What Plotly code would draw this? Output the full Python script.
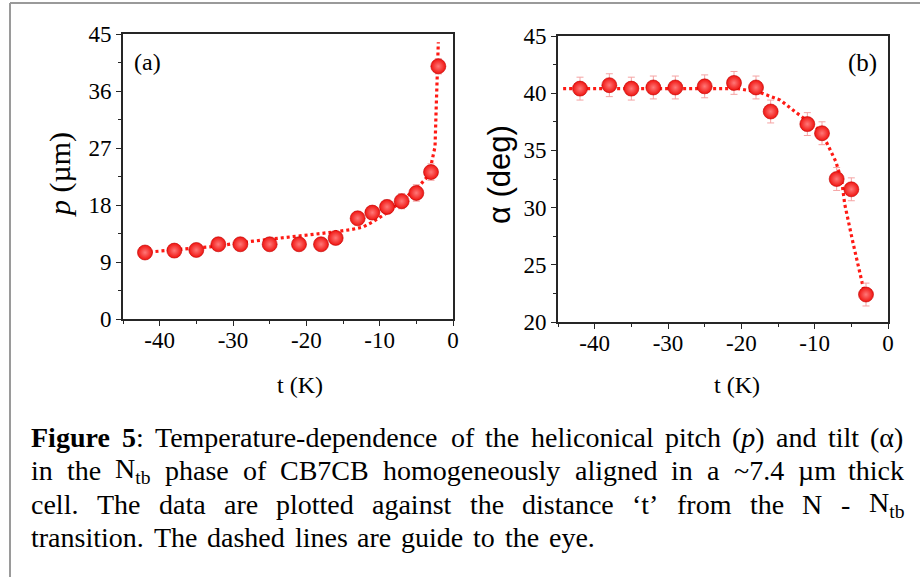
import plotly.graph_objects as go

W, H = 920, 577

# ---------------- data ----------------
t_a = [-42, -38, -35, -32, -29, -25, -21, -18, -16, -13, -11, -9, -7, -5, -3, -2]
p_a = [10.5, 10.8, 10.9, 11.8, 11.8, 11.8, 11.8, 11.8, 12.8, 15.9, 16.8, 17.7, 18.6, 19.9, 23.2, 39.9]
p_err = [0.6, 0.6, 0.6, 0.6, 0.6, 0.6, 0.6, 0.6, 0.8, 1.0, 1.0, 1.1, 1.2, 1.3, 1.3, 1.2]

curve_t_a = [-42.2, -37.7, -33.1, -27.2, -21.3, -18.0, -15.9, -14.0, -12.3, -11.0, -9.5, -8.3,
             -7.2, -6.0, -4.7, -4.0, -3.1, -2.9, -2.45, -2.3, -2.15, -2.0]
curve_p_a = [10.5, 10.9, 11.4, 12.3, 13.0, 13.5, 13.8, 14.1, 14.5, 15.3, 16.4, 17.4,
             18.5, 19.6, 20.9, 21.8, 23.0, 24.8, 27.2, 33.0, 39.0, 43.7]

t_b = [-42, -38, -35, -32, -29, -25, -21, -18, -16, -11, -9, -7, -5, -3]
alpha_b = [40.4, 40.7, 40.4, 40.5, 40.5, 40.6, 40.9, 40.5, 38.4, 37.3, 36.5, 32.5, 31.6, 22.4]
alpha_err = [1.0] * len(t_b)

curve_t_b = [-44.3, -20.5, -17.6, -14.7, -12.5, -9.6, -8.3, -7.1, -6.3, -5.9, -4.8, -3.8, -3.3]
curve_alpha_b = [40.4, 40.4, 40.1, 39.4, 38.3, 36.9, 35.6, 34.0, 32.3, 30.3, 27.0, 24.2, 22.8]

x_ticks = [-40, -30, -20, -10, 0]
ya_ticks = [0, 9, 18, 27, 36, 45]
yb_ticks = [20, 25, 30, 35, 40, 45]

caption_lines = [
    ["<b>Figure</b>", "<b>5</b>:", "Temperature-dependence", "of", "the", "heliconical", "pitch",
     "(<i>p</i>)", "and", "tilt", "(α)"],
    ["in", "the", "N<sub>tb</sub>", "phase", "of", "CB7CB", "homogeneously", "aligned", "in", "a",
     "~7.4", "µm", "thick"],
    ["cell.", "The", "data", "are", "plotted", "against", "the", "distance", "‘t’", "from", "the",
     "N", "-", "N<sub>tb</sub>"],
    ["transition.", "The", "dashed", "lines", "are", "guide", "to", "the", "eye."],
]

# ---------------- styling ----------------
RED = "#f01410"
SERIF = "Liberation Serif"
SANS = "Liberation Sans"
AXC = "#262626"

fig = go.Figure()

for xa, ya, ct, cv, tt, vv, ee in [
    ("x", "y", curve_t_a, curve_p_a, t_a, p_a, p_err),
    ("x2", "y2", curve_t_b, curve_alpha_b, t_b, alpha_b, alpha_err),
]:
    fig.add_trace(go.Scatter(
        x=ct, y=cv, xaxis=xa, yaxis=ya, mode="lines",
        line=dict(color="#ff1a14", width=3.2, dash="3px,3px"),
        hoverinfo="skip", showlegend=False))
    fig.add_trace(go.Scatter(
        x=tt, y=vv, xaxis=xa, yaxis=ya, mode="markers",
        marker=dict(size=15, color=RED, line=dict(color="#c00000", width=0.6),
                    gradient=dict(type="radial", color="#ff7878")),
        error_y=dict(type="data", array=ee, visible=True, color="#f5a3a3",
                     thickness=1, width=3.5),
        showlegend=False))


def px_x(v):
    return v / W


def px_y(v):
    return 1 - v / H


common_axis = dict(
    showline=True, linecolor=AXC, linewidth=1.6, mirror=True,
    ticks="outside", ticklen=5, tickwidth=1.3, tickcolor=AXC,
    showgrid=False, zeroline=False, automargin=False,
    tickfont=dict(family=SERIF, size=23, color="black"),
)

fig.update_layout(
    width=W, height=H,
    margin=dict(l=0, r=0, t=0, b=0, autoexpand=False),
    paper_bgcolor="white", plot_bgcolor="white",
    font=dict(family=SERIF),
    xaxis=dict(domain=[px_x(123), px_x(453)], range=[-45, 0], anchor="y",
               tickvals=x_ticks, ticktext=[str(v) for v in x_ticks], ticklabelstandoff=-5,
               minor=dict(dtick=5, tick0=0, ticks="outside", ticklen=3, tickcolor=AXC),
               **common_axis),
    yaxis=dict(domain=[px_y(319), px_y(34)], range=[0, 45], anchor="x",
               tickvals=ya_ticks, ticktext=[str(v) for v in ya_ticks],
               minor=dict(dtick=4.5, tick0=0, ticks="outside", ticklen=3, tickcolor=AXC),
               **common_axis),
    xaxis2=dict(domain=[px_x(558), px_x(888)], range=[-45, 0], anchor="y2",
                tickvals=x_ticks, ticktext=[str(v) for v in x_ticks], ticklabelstandoff=-5,
                minor=dict(dtick=5, tick0=0, ticks="outside", ticklen=3, tickcolor=AXC),
                **common_axis),
    yaxis2=dict(domain=[px_y(322), px_y(36)], range=[20, 45], anchor="x2",
                tickvals=yb_ticks, ticktext=[str(v) for v in yb_ticks],
                minor=dict(dtick=2.5, tick0=20, ticks="outside", ticklen=3, tickcolor=AXC),
                **common_axis),
)

# outer frame (left and top edges are visible in the reference)
fig.add_shape(type="line", xref="paper", yref="paper", x0=px_x(10), x1=1.0,
              y0=px_y(3), y1=px_y(3), line=dict(color="#9a9a9a", width=2))
fig.add_shape(type="line", xref="paper", yref="paper", x0=px_x(10), x1=px_x(10),
              y0=px_y(3), y1=0, line=dict(color="#9a9a9a", width=2))

ann = []


def add_text(text, x, y, size, family=SERIF, angle=0, xanchor="center"):
    ann.append(dict(text=text, x=px_x(x), y=px_y(y), xref="paper", yref="paper",
                    xanchor=xanchor, yanchor="middle", showarrow=False, textangle=angle,
                    font=dict(family=family, size=size, color="black")))


add_text("<i>p</i> (µm)", 60, 175, 30, angle=-90)
add_text("α (deg)", 499, 175, 31, family=SANS, angle=-90)
add_text("t (K)", 300, 385, 24)
add_text("t (K)", 737, 385, 24)
add_text("(a)", 147, 62, 24)
add_text("(b)", 862, 63, 25)

# ---------------- caption, word-justified ----------------
REG = {" ": 250, ".": 250, ",": 250, ":": 278, "-": 333, "(": 333, ")": 333, "‘": 333, "’": 333,
       "~": 541, "µ": 500, "α": 540}
for ch, w in zip("abcdefghijklmnopqrstuvwxyz",
                 [444, 500, 444, 500, 444, 333, 500, 500, 278, 278, 500, 278, 778, 500, 500, 500,
                  500, 333, 389, 278, 500, 500, 722, 500, 500, 444]):
    REG[ch] = w
for ch, w in zip("ABCDEFGHIJKLMNOPQRSTUVWXYZ",
                 [722, 667, 667, 722, 611, 556, 722, 722, 333, 389, 722, 611, 889, 722, 722, 556,
                  722, 667, 556, 611, 722, 722, 944, 722, 722, 611]):
    REG[ch] = w
for ch in "0123456789":
    REG[ch] = 500
BOLD = {"F": 611, "i": 278, "g": 500, "u": 556, "r": 444, "e": 444, "5": 500}


def word_width(s):
    total, bold, scale, i = 0.0, False, 1.0, 0
    while i < len(s):
        if s[i] == "<":
            j = s.index(">", i)
            tag = s[i + 1:j]
            if tag == "b":
                bold = True
            elif tag == "/b":
                bold = False
            elif tag == "sub":
                scale = 0.7
            elif tag == "/sub":
                scale = 1.0
            i = j + 1
            continue
        ch = s[i]
        w = BOLD.get(ch, REG.get(ch, 500)) if bold else REG.get(ch, 500)
        total += w * scale
        i += 1
    return total


CAP_SIZE = 28
left_px = 29
right_px = [902, 902, 902, 593]
centers = [437, 470, 504, 537]
for words, rpx, cy in zip(caption_lines, right_px, centers):
    widths = [word_width(w) * CAP_SIZE / 1000 for w in words]
    gap = (rpx - left_px - sum(widths)) / (len(words) - 1)
    xpos = left_px
    for w, wd in zip(words, widths):
        add_text(w, xpos, cy, CAP_SIZE, xanchor="left")
        xpos += wd + gap

fig.update_layout(annotations=ann)

fig.write_html("out.html")
